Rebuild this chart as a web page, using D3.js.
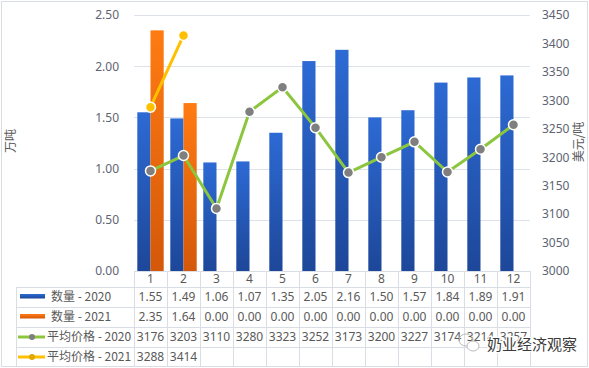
<!DOCTYPE html>
<html><head><meta charset="utf-8">
<script src="https://cdn.jsdelivr.net/npm/d3@7"></script>
<style>
html,body{margin:0;padding:0;background:#fff;}
svg{display:block;font-family:"Noto Sans CJK SC","Noto Sans",sans-serif;}
</style></head>
<body>
<svg id="chart" width="589" height="368"></svg>
<script>
const months = ["1","2","3","4","5","6","7","8","9","10","11","12"];
const qty2020 = [1.55,1.49,1.06,1.07,1.35,2.05,2.16,1.50,1.57,1.84,1.89,1.91];
const qty2021 = [2.35,1.64,0,0,0,0,0,0,0,0,0,0];
const price2020 = [3176,3203,3110,3280,3323,3252,3173,3200,3227,3174,3214,3257];
const price2021 = [3288,3414];
const leftTicks = [0,0.5,1,1.5,2,2.5];
const rightTicks = [3000,3050,3100,3150,3200,3250,3300,3350,3400,3450];
const seriesNames = ["数量 - 2020","数量 - 2021","平均价格 - 2020","平均价格 - 2021"];
const leftTitle = "万吨";
const rightTitle = "美元/吨";
const watermark = "奶业经济观察";

const svg = d3.select("#chart");
const W = 589, H = 368;
const plotL = 134, plotR = 530, plotT = 15, plotB = 271;
const textCol = "#595959", gridCol = "#dde2ea", tickCol = "#5d6472";

svg.append("rect").attr("x",1.5).attr("y",1.5).attr("width",W-3).attr("height",H-3)
  .attr("fill","#fff").attr("stroke","#d9dde4");

const defs = svg.append("defs");
function grad(id, c1, c2){
  const g = defs.append("linearGradient").attr("id",id).attr("x1",0).attr("y1",0).attr("x2",0).attr("y2",1);
  g.append("stop").attr("offset","0%").attr("stop-color",c1);
  g.append("stop").attr("offset","100%").attr("stop-color",c2);
}
grad("gBlue","#2d6ad4","#1d4799");
grad("gOrange","#ff7b12","#d4580a");

const x = d3.scaleBand().domain(months).range([plotL,plotR]).paddingInner(0.2).paddingOuter(0.1);
const xs = d3.scaleBand().domain(["2020","2021"]).range([0,x.bandwidth()]);
const yL = d3.scaleLinear().domain([0,2.5]).range([plotB,plotT]);
const yR = d3.scaleLinear().domain([3000,3450]).range([plotB,plotT]);
const step = x.step();

// gridlines
svg.append("g").selectAll("line").data(leftTicks.filter(d=>d>0)).join("line")
  .attr("x1",plotL).attr("x2",plotR).attr("y1",d=>Math.round(yL(d))+0.5).attr("y2",d=>Math.round(yL(d))+0.5)
  .attr("stroke",gridCol).attr("stroke-width",1);

// left axis
const axL = svg.append("g").attr("transform",`translate(${plotL-12},0)`)
  .call(d3.axisLeft(yL).tickValues(leftTicks).tickFormat(d3.format(".2f")).tickSize(0));
axL.select(".domain").remove();
axL.selectAll("text").attr("fill",tickCol).attr("font-size",12).attr("font-family","'Noto Sans',sans-serif");

// right axis
const axR = svg.append("g").attr("transform",`translate(${plotR+9},0)`)
  .call(d3.axisRight(yR).tickValues(rightTicks).tickFormat(d3.format("d")).tickSize(0));
axR.select(".domain").remove();
axR.selectAll("text").attr("fill",tickCol).attr("font-size",12).attr("font-family","'Noto Sans',sans-serif");

svg.append("text").attr("transform","translate(15,141) rotate(-90)").attr("text-anchor","middle")
  .attr("font-size",12).attr("fill",textCol).text(leftTitle);
svg.append("text").attr("transform","translate(583,142) rotate(-90)").attr("text-anchor","middle")
  .attr("font-size",12).attr("fill",textCol).text(rightTitle);

// bars
const bars = svg.append("g");
bars.selectAll("rect.b20").data(months).join("rect").attr("class","b20")
  .attr("x",(d)=>x(d)+xs("2020")).attr("width",xs.bandwidth())
  .attr("y",(d,i)=>yL(qty2020[i])).attr("height",(d,i)=>plotB-yL(qty2020[i]))
  .attr("fill","url(#gBlue)");
bars.selectAll("rect.b21").data(months).join("rect").attr("class","b21")
  .attr("x",(d)=>x(d)+xs("2021")).attr("width",xs.bandwidth())
  .attr("y",(d,i)=>yL(qty2021[i])).attr("height",(d,i)=>plotB-yL(qty2021[i]))
  .attr("fill","url(#gOrange)");

// lines
const cx = d=>x(d)+x.bandwidth()/2;
const line = d3.line().x(d=>cx(d.m)).y(d=>yR(d.v));
const p20 = months.map((m,i)=>({m, v:price2020[i]}));
const p21 = price2021.map((v,i)=>({m:months[i], v}));
svg.append("path").datum(p20).attr("d",line).attr("fill","none").attr("stroke","#8cc63f").attr("stroke-width",3).attr("stroke-linejoin","round");
svg.append("path").datum(p21).attr("d",line).attr("fill","none").attr("stroke","#ffc000").attr("stroke-width",3).attr("stroke-linejoin","round");
svg.append("g").selectAll("circle").data(p20).join("circle").attr("cx",d=>cx(d.m)).attr("cy",d=>yR(d.v)).attr("r",5)
  .attr("fill","#7f7f7f").attr("stroke","#fff").attr("stroke-width",1.5);
svg.append("g").selectAll("circle").data(p21).join("circle").attr("cx",d=>cx(d.m)).attr("cy",d=>yR(d.v)).attr("r",5)
  .attr("fill","#ffc000").attr("stroke","#fff").attr("stroke-width",1.5);

// table
const tblCol = "#d9dde6";
const tableL = 16;
const rowLines = [287,307,327,347,366];
const tg = svg.append("g");
tg.append("line").attr("x1",plotL).attr("x2",plotR).attr("y1",plotB+0.5).attr("y2",plotB+0.5).attr("stroke",tblCol);
rowLines.forEach(y=>tg.append("line").attr("x1",tableL).attr("x2",plotR).attr("y1",y+0.5).attr("y2",y+0.5).attr("stroke",tblCol));
tg.append("line").attr("x1",tableL+0.5).attr("x2",tableL+0.5).attr("y1",rowLines[0]).attr("y2",rowLines[4]).attr("stroke",tblCol);
d3.range(13).forEach(i=>{
  const xx = Math.round(plotL + i*step)+0.5;
  tg.append("line").attr("x1",xx).attr("x2",xx).attr("y1",plotB).attr("y2",rowLines[4]).attr("stroke",tblCol);
});
// header
tg.selectAll("text.h").data(months).join("text").attr("class","h").attr("x",d=>cx(d)).attr("y",283)
  .attr("text-anchor","middle").attr("font-size",12).attr("fill",textCol).attr("font-family","'Noto Sans',sans-serif").text(d=>d);
const rowY = [301,321,341,361];
const rows = [
  qty2020.map(d3.format(".2f")),
  qty2021.map(d3.format(".2f")),
  price2020.map(String),
  price2021.map(String)
];
rows.forEach((r,ri)=>{
  tg.selectAll("text.r"+ri).data(r).join("text").attr("class","r"+ri)
    .attr("x",(d,i)=>cx(months[i])).attr("y",rowY[ri]).attr("text-anchor","middle")
    .attr("font-size",12).attr("fill",textCol).attr("font-family","'Noto Sans',sans-serif").text(d=>d);
});
// legend keys
tg.append("rect").attr("x",20).attr("y",294).attr("width",25).attr("height",4.5).attr("fill","url(#gBlue)");
tg.append("rect").attr("x",20).attr("y",314).attr("width",25).attr("height",4.5).attr("fill","url(#gOrange)");
tg.append("line").attr("x1",18).attr("x2",45).attr("y1",337).attr("y2",337).attr("stroke","#8cc63f").attr("stroke-width",3);
tg.append("circle").attr("cx",32).attr("cy",337).attr("r",3).attr("fill","#7f7f7f");
tg.append("line").attr("x1",18).attr("x2",45).attr("y1",357).attr("y2",357).attr("stroke","#ffc000").attr("stroke-width",3);
tg.append("circle").attr("cx",32).attr("cy",357).attr("r",3).attr("fill","#e0a800");
const legX = [51,51,47,47];
seriesNames.forEach((s,i)=>{
  tg.append("text").attr("x",legX[i]).attr("y",rowY[i]).attr("font-size",12).attr("fill",textCol).text(s);
});

// watermark
const wm = svg.append("g");
wm.append("ellipse").attr("cx",466).attr("cy",340).attr("rx",7).attr("ry",6).attr("fill","none").attr("stroke","#bbb").attr("stroke-width",1);
wm.append("ellipse").attr("cx",473).attr("cy",346).attr("rx",6).attr("ry",5).attr("fill","#fff").attr("stroke","#bbb").attr("stroke-width",1);
wm.append("text").attr("x",487).attr("y",350).attr("font-size",15).attr("fill","#3a3a3a")
  .attr("stroke","#fff").attr("stroke-width",2.5).attr("paint-order","stroke").text(watermark);
</script>
</body></html>
